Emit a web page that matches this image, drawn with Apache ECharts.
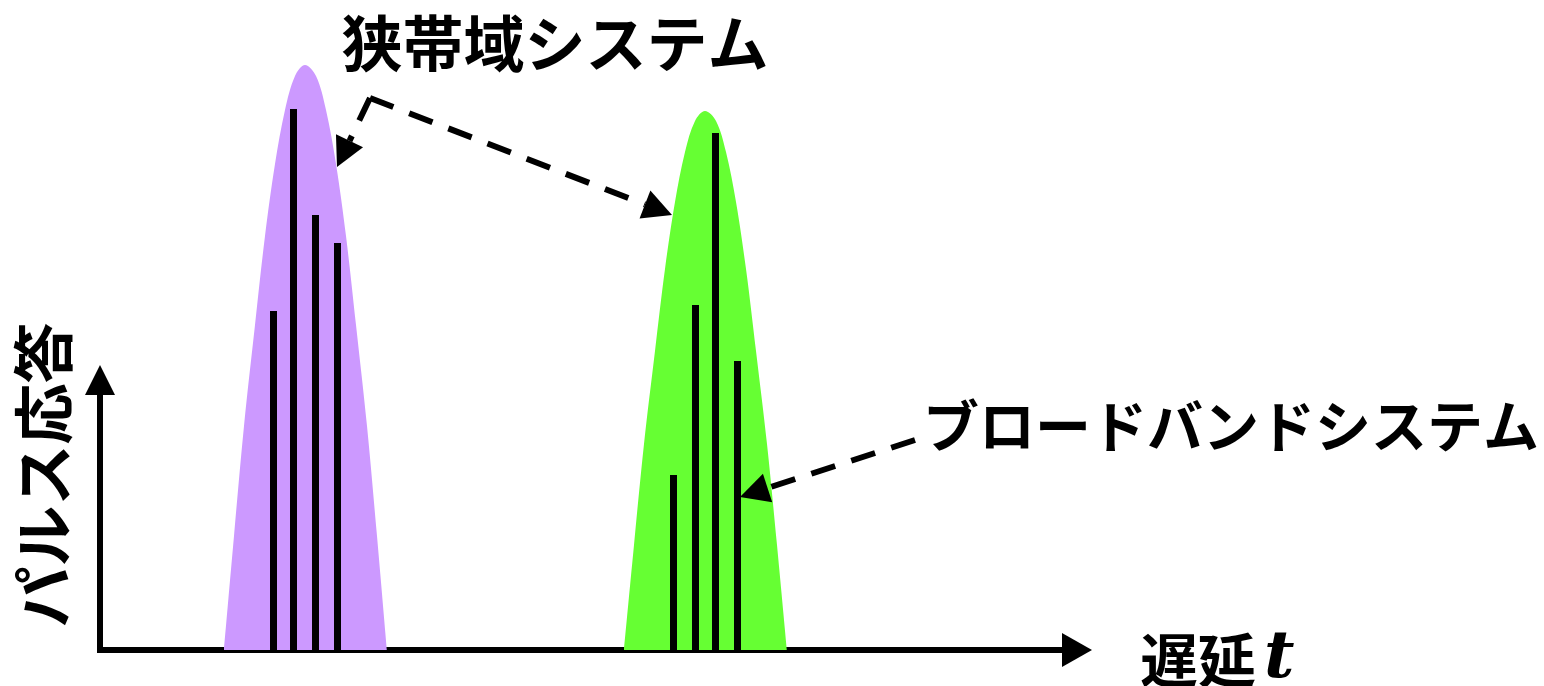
<!DOCTYPE html>
<html>
<head>
<meta charset="utf-8">
<script src="https://cdn.jsdelivr.net/npm/echarts@6/dist/echarts.min.js"></script>
<style>
  html, body { margin: 0; padding: 0; background: #fff; }
  #main { width: 1544px; height: 686px; }
</style>
</head>
<body>
<div id="main"></div>
<script>
// 遅延 (x) と応答 (y) の値、単位は図から読んだ目盛
const narrowX = [124, 134, 144, 155, 165, 175, 185, 195, 205, 216, 226, 236, 246, 256, 267, 277, 287];
const narrowY = [0, 114, 224, 325, 414, 486, 540, 574, 585, 574, 540, 486, 414, 325, 224, 114, 0];
const wideX = [524, 534, 544, 555, 565, 575, 585, 595, 605, 616, 626, 636, 646, 656, 667, 677, 687];
const wideY = [0, 105, 206, 299, 381, 448, 498, 529, 539, 529, 498, 448, 381, 299, 206, 105, 0];

// インパルス応答のタップ
const narrowTaps = [173.5, 193.5, 215.5, 237.5];
const narrowGain = [339, 541, 435, 407];
const wideTaps = [573.5, 595.5, 615.5, 637.5];
const wideGain = [175, 345, 517, 289];

// 注釈の矢印 (データ座標)
const arrowCorner = [270, 552];
const narrowTip = [237, 483];
const wideTip = [572, 435];
const bandStart = [815, 210];
const bandTip = [640, 153];

const labelNarrow = '狭帯域システム';
const labelWide = 'ブロードバンドシステム';
const labelY = 'パルス応答';

const pairs = (xs, ys) => xs.map((x, i) => [x, ys[i]]);
const cjk = '"Noto Sans CJK JP", "Noto Sans CJK SC", sans-serif';

var myChart = echarts.init(document.getElementById('main'));

const hiddenAxis = {
    axisLine: { show: false },
    axisTick: { show: false },
    axisLabel: { show: false },
    splitLine: { show: false }
};

const option = {
    animation: false,
    grid: [
        { left: 100, top: 50, width: 977, height: 600 },
        { left: 100, top: 380, width: 977, bottom: 36 }
    ],
    xAxis: [
        {
            type: 'value', gridIndex: 0, min: 0, max: 977,
            axisLine: {
                show: true,
                symbol: ['none', 'triangle'],
                symbolSize: [34, 30],
                lineStyle: { color: '#000', width: 6, cap: 'square' }
            },
            axisTick: { show: false },
            axisLabel: { show: false },
            splitLine: { show: false }
        },
        Object.assign({ type: 'value', gridIndex: 1, min: 0, max: 977 }, hiddenAxis)
    ],
    yAxis: [
        Object.assign({ type: 'value', gridIndex: 0, min: 0, max: 600 }, hiddenAxis),
        {
            type: 'value', gridIndex: 1, min: 0, max: 1,
            axisLine: {
                show: true,
                onZero: false,
                symbol: ['none', 'triangle'],
                symbolSize: [30, 30],
                lineStyle: { color: '#000', width: 6, cap: 'square' }
            },
            axisTick: { show: false },
            axisLabel: { show: false },
            splitLine: { show: false }
        }
    ],
    series: [
        {
            name: '狭帯域', type: 'line', data: pairs(narrowX, narrowY),
            smooth: 0.35, symbol: 'none', color: '#cc99ff',
            lineStyle: { width: 0 },
            areaStyle: { color: '#cc99ff', opacity: 1 },
            z: 1
        },
        {
            name: 'ブロードバンド', type: 'line', data: pairs(wideX, wideY),
            smooth: 0.35, symbol: 'none', color: '#66ff33',
            lineStyle: { width: 0 },
            areaStyle: { color: '#66ff33', opacity: 1 },
            z: 1
        },
        {
            name: '狭帯域タップ', type: 'bar', data: pairs(narrowTaps, narrowGain),
            barWidth: 7, barGap: '-100%', itemStyle: { color: '#000' }, z: 3
        },
        {
            name: 'ブロードバンドタップ', type: 'bar', data: pairs(wideTaps, wideGain),
            barWidth: 7, barGap: '-100%', itemStyle: { color: '#000' }, z: 3
        }
    ]
};

myChart.setOption(option);

// 破線の矢印を作る
function px(p) {
    return myChart.convertToPixel({ gridIndex: 0 }, p);
}
function arrowHead(from, tip, len, wid) {
    const dx = tip[0] - from[0], dy = tip[1] - from[1];
    const d = Math.sqrt(dx * dx + dy * dy);
    const ux = dx / d, uy = dy / d;
    const base = [tip[0] - ux * len, tip[1] - uy * len];
    return {
        base: base,
        points: [
            tip,
            [base[0] - uy * wid / 2, base[1] + ux * wid / 2],
            [base[0] + uy * wid / 2, base[1] - ux * wid / 2]
        ]
    };
}
function dashedArrow(from, tip) {
    const a = px(from), t = px(tip);
    const head = arrowHead(a, t, 29, 30);
    return [
        {
            type: 'polyline', z: 10,
            shape: { points: [a, head.base] },
            style: { stroke: '#000', lineWidth: 6, lineDash: [25, 17], fill: null }
        },
        {
            type: 'polygon', z: 10,
            shape: { points: head.points },
            style: { fill: '#000' }
        }
    ];
}

const graphics = []
    .concat(dashedArrow(arrowCorner, narrowTip))
    .concat(dashedArrow(arrowCorner, wideTip))
    .concat(dashedArrow(bandStart, bandTip));

graphics.push({
    type: 'text', z: 10,
    style: {
        text: labelNarrow, x: 555, y: 44, align: 'center', verticalAlign: 'middle',
        fill: '#000', fontSize: 61, fontWeight: 'bold', fontFamily: cjk
    }
});
graphics.push({
    type: 'text', z: 10,
    style: {
        text: labelWide, x: 1231, y: 426, align: 'center', verticalAlign: 'middle',
        fill: '#000', fontSize: 56, fontWeight: 'bold', fontFamily: cjk
    }
});
graphics.push({
    type: 'text', z: 10,
    x: 44, y: 475, rotation: Math.PI / 2,
    style: {
        text: labelY, x: 0, y: 0, align: 'center', verticalAlign: 'middle',
        fill: '#000', fontSize: 61, fontWeight: 'bold', fontFamily: cjk
    }
});
graphics.push({
    type: 'text', z: 10,
    style: {
        text: '{a|遅延}{b|t}', x: 1140, y: 660, align: 'left', verticalAlign: 'middle',
        rich: {
            a: { fontSize: 58, fontWeight: 'bold', fontFamily: cjk, fill: '#000' },
            b: {
                fontSize: 66, fontWeight: 900, fontStyle: 'italic',
                fontFamily: '"DejaVu Serif", "Liberation Serif", serif',
                fill: '#000', padding: [0, 0, 0, 8]
            }
        }
    }
});

myChart.setOption({ graphic: graphics });
</script>
</body>
</html>
